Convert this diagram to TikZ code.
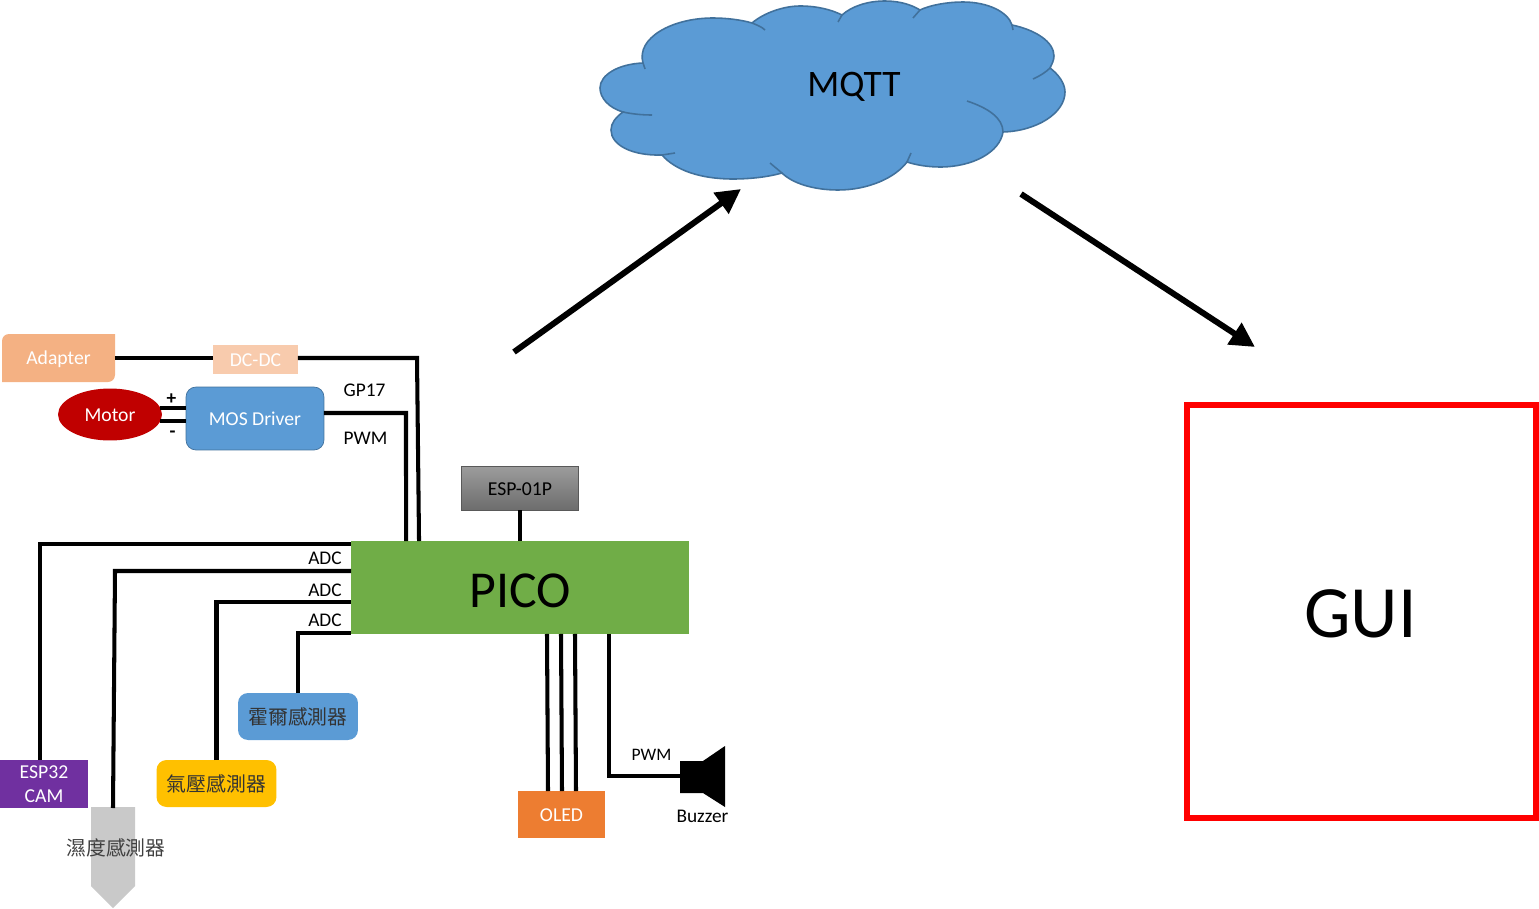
\documentclass[tikz,border=0pt]{standalone}
\usepackage{fontspec}
\setmainfont{Carlito}
\newfontfamily\cjk{Noto Sans CJK TC}
\usepackage{tikz}
\usetikzlibrary{calc}
\usetikzlibrary{shapes.geometric}
\usetikzlibrary{arrows.meta}
\definecolor{bluebox}{HTML}{5B9BD5}
\definecolor{blueline}{HTML}{41719C}
\definecolor{adapterfill}{HTML}{F4B183}
\definecolor{dcdcfill}{HTML}{F8CBAD}
\definecolor{motorfill}{HTML}{C00000}
\definecolor{picofill}{HTML}{70AD47}
\definecolor{camfill}{HTML}{7030A0}
\definecolor{yellowbox}{HTML}{FFC000}
\definecolor{oledfill}{HTML}{ED7D31}
\definecolor{probefill}{HTML}{C9C9C9}
\definecolor{esptop}{HTML}{9C9C9C}
\definecolor{espbottom}{HTML}{6C6C6C}
\tikzset{
	box/.style={inner sep=0pt, outer sep=0pt, align=center, font=\fontsize{11.2}{13.5}\selectfont},
	cjkbox/.style={box, fill=#1, rounded corners=0.2cm, text=black!80, minimum width=2.4cm, minimum height=.94cm, font=\fontsize{11.3}{13}\cjk},
	wire/.style={line width=2.3pt, black},
	cloudline/.style={blueline, line width=0.9pt},
	bigarrow/.style={line width=3.4pt, black, -{Triangle[length=14pt,width=14pt]}},
	lbl/.style={inner sep=0pt, font=\fontsize{11}{12}\selectfont},
	adclbl/.style={lbl, anchor=east},
}
\newcommand{\lowtext}[1]{\raisebox{-3.7pt}[0pt][0pt]{#1}}
\newcommand{\cloudpath}{
	(643,63) .. controls (636,38) and (672,18) .. (713,18) .. controls (727,18) and (742,20) .. (752,23)
	.. controls (765,12) and (785,6) .. (800,6) .. controls (818,6) and (832,10) .. (842,15)
	.. controls (852,6) and (868,1) .. (885,1) .. controls (900,1) and (912,5) .. (920,10)
	.. controls (930,5) and (948,2) .. (963,2) .. controls (988,2) and (1008,12) .. (1012,25)
	.. controls (1036,30) and (1054,42) .. (1054,56) .. controls (1054,60) and (1052,64) .. (1050,68)
	.. controls (1058,74) and (1065,83) .. (1065,92) .. controls (1065,113) and (1037,131) .. (1003,132)
	.. controls (1000,152) and (973,167) .. (940,167) .. controls (928,167) and (916,165) .. (907,162)
	.. controls (895,178) and (868,190) .. (838,190) .. controls (813,190) and (792,183) .. (782,173)
	.. controls (768,177) and (750,179) .. (733,179) .. controls (700,179) and (675,170) .. (662,155)
	.. controls (632,156) and (611,145) .. (611,130) .. controls (611,123) and (616,117) .. (623,112)
	.. controls (609,108) and (600,98) .. (600,88) .. controls (600,75) and (618,64) .. (643,63) -- cycle
}
\begin{document}
\begin{tikzpicture}[x=0.02cm,y=-0.02cm]
	\useasboundingbox (0,0) rectangle (1539,909);
	
	% cloud
	\draw[cloudline, fill=bluebox] \cloudpath;
	\draw[cloudline] (752,23) .. controls (757,25) and (762,27) .. (765,30);
	\draw[cloudline] (842,15) -- (838,22);
	\draw[cloudline] (920,10) -- (913,18);
	\draw[cloudline] (1012,25) -- (1013,30);
	\draw[cloudline] (1050,68) .. controls (1046,72) and (1040,76) .. (1033,79);
	\draw[cloudline] (1003,132) .. controls (1003,118) and (988,108) .. (967,101);
	\draw[cloudline] (907,162) -- (911,153);
	\draw[cloudline] (782,173) -- (770,163);
	\draw[cloudline] (662,155) -- (675,153);
	\draw[cloudline] (623,112) .. controls (632,114) and (642,115) .. (652,115);
	\draw[cloudline] (643,63) -- (645,69);
	\node[inner sep=0pt, font=\fontsize{21.3}{24}\selectfont] (mqtt) at (854,87) {MQTT};
	
	% boxes
	\node[box, fill=picofill, minimum width=6.76cm, minimum height=1.86cm] (pico) at (520,587.5) {};
	\node[inner sep=0pt, font=\fontsize{29.5}{32}\selectfont] (picotext) at (520,590.5) {PICO};
	\node[box, top color=esptop, bottom color=espbottom, draw=gray!70!black, line width=.4pt, minimum width=2.34cm, minimum height=.88cm] (esp01) at (520,488.5) {\lowtext{ESP-01P}};
	\node[box, fill=dcdcfill, text=white, minimum width=1.7cm, minimum height=.58cm] (dcdc) at (255.5,359.5) {\lowtext{DC-DC}};
	\node[box, draw=blueline, fill=bluebox, text=white, rounded corners=0.2cm, minimum width=2.76cm, minimum height=1.26cm] (mos) at (255,418.5) {MOS Driver};
	\node[box, ellipse, fill=motorfill, text=white, minimum width=2.08cm, minimum height=1.04cm] (motor) at (110,414.5) {\lowtext{Motor}};
	\fill[adapterfill] (2,382) [rounded corners=0.14cm] -- (2,334) [sharp corners] -- (115,334) [rounded corners=0.14cm] -- (115,382) [sharp corners] -- cycle;
	\node[box, text=white, minimum width=2.26cm, minimum height=.96cm] (adapter) at (58.5,358) {\lowtext{Adapter}};
	\node[box, fill=camfill, text=white, minimum width=1.76cm, minimum height=.96cm] (cam) at (44,784) {ESP32\\CAM};
	\node[cjkbox=bluebox] (hall) at (298,716.5) {霍爾感測器};
	\node[cjkbox=yellowbox] (press) at (216.5,783.5) {氣壓感測器};
	\node[box, fill=oledfill, text=white, minimum width=1.74cm, minimum height=.94cm] (oled) at (561.5,814.5) {\lowtext{OLED}};
	
	% humidity probe
	\fill[probefill] (91,807) -- (135,807) -- (135,886) -- (113,908) -- (91,886) -- cycle;
	\coordinate (probe) at (113,808);
	\node[inner sep=0pt, text=black!75, font=\fontsize{11.3}{13}\cjk] (humid) at (116,848) {濕度感測器};
	
	% buzzer
	\fill[black] (680,761) -- (703,761) -- (725,746) -- (725,807) -- (703,793) -- (680,793) -- cycle;
	\coordinate (buzz) at (680,776);
	\node[lbl] (buzzer) at (702.5,816.5) {Buzzer};
	
	\draw[wire] (adapter.east) -- (dcdc.west |- adapter.east);
	\draw[wire] (dcdc.east |- adapter.east) -- (417,358) -- ($(pico.north west)+(68,0)$);
	\draw[wire] (mos.east |- 0,413) -- (406,413) -- ($(pico.north west)+(55,0)$);
	\draw[wire] (160,408) -- (mos.west |- 0,408);
	\draw[wire] (160,421) -- (mos.west |- 0,421);
	\node[lbl, font=\fontsize{11}{12}\selectfont\bfseries] (plus) at (171.5,399) {+};
	\node[lbl, font=\fontsize{11}{12}\selectfont\bfseries] (minus) at (172.5,434) {-};
	\node[lbl] (gp) at (364.5,390) {GP17};
	\node[lbl] (pwma) at (365.5,438) {PWM};
	\draw[wire] (esp01.south) -- (pico.north);
	
	\draw[wire] (cam.north -| 40,0) -- (40,544) -- (pico.north west |- 0,544);
	\draw[wire] (probe) -- (115,571) -- (pico.west |- 0,571);
	\draw[wire] (press.north) |- (pico.west |- 0,602);
	\draw[wire] (hall.north) |- (pico.south west |- 0,633);
	\foreach \y in {558,590,620} {
		\node[adclbl] (adc\y) at (342,\y) {ADC};
	}
	
	\foreach \x/\z in {547/548,561/562,575/576} {
		\draw[wire] (pico.south -| \x,0) -- (oled.north -| \z,0);
	}
	\draw[wire] (pico.south -| 609,0) |- (buzz);
	\node[lbl, font=\fontsize{10}{12}\selectfont] (pwmb) at (651.5,755) {PWM};
	
	% gui and big arrows
	\node[draw=red, line width=3pt, inner sep=0pt, outer sep=0pt, minimum width=6.98cm, minimum height=8.26cm] (gui) at (1361.5,611.5) {};
	\node[inner sep=0pt, font=\fontsize{42}{46}\selectfont] (guitext) at (1360.5,614) {GUI};
	\coordinate (uplink) at (514,352);
	\coordinate (cloudin) at (741,189);
	\coordinate (cloudout) at (1021,194);
	\coordinate (guiin) at (1255,347);
	\draw[bigarrow] (uplink) -- (cloudin);
	\draw[bigarrow] (cloudout) -- (guiin);
\end{tikzpicture}
\end{document}
